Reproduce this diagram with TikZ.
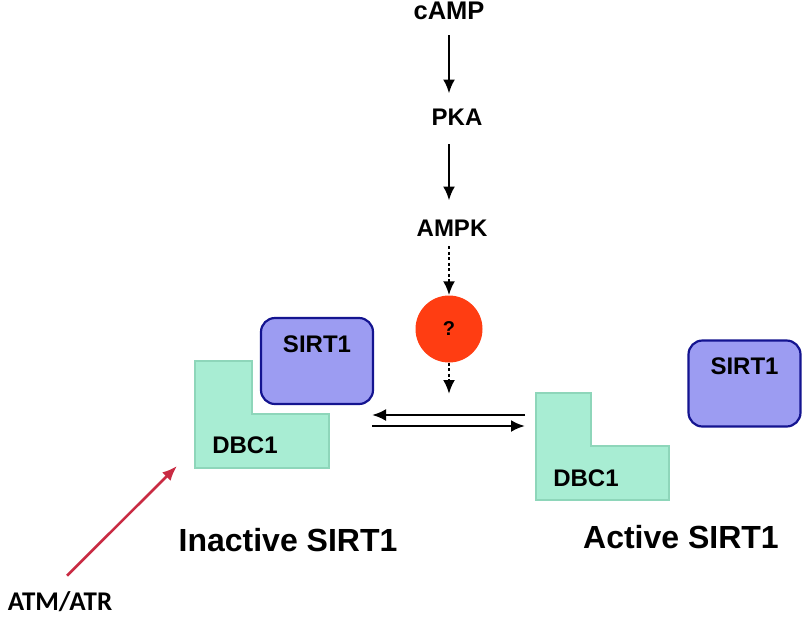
\documentclass[tikz,border=0pt]{standalone}
\usepackage{fontspec}
\setmainfont{Liberation Sans}
\newfontfamily\calibri{Carlito}
\usepackage{tikz}
\usetikzlibrary{positioning,arrows.meta}
\definecolor{verdedbc}{HTML}{A8EDD3}
\definecolor{bordedbc}{HTML}{8ED6BA}
\definecolor{azulsirt}{HTML}{9C9CF2}
\definecolor{bordesirt}{HTML}{141490}
\definecolor{rojoq}{HTML}{FF3D12}
\definecolor{rojoatm}{HTML}{C92B43}
\tikzstyle{etiqueta}=[
	inner sep=0,
	font=\fontsize{24}{28}\selectfont\bfseries]
\tikzstyle{sirt}=[
	rectangle,
	rounded corners=14,
	draw=bordesirt,
	line width=2.2,
	fill=azulsirt,
	minimum width=112,
	minimum height=86]
\tikzstyle{dbc}=[
	draw=bordedbc,
	line width=1.5,
	fill=verdedbc]
\tikzstyle{estado}=[
	inner sep=0,
	font=\fontsize{32}{36}\selectfont\bfseries]
\tikzstyle{flecha}=[
	-{Latex[length=14pt,width=12pt]},
	line width=2.6]
\tikzstyle{punteada}=[
	flecha,
	dash pattern=on 3pt off 2.5pt]
\begin{document}
\begin{tikzpicture}[x=1pt,y=-1pt]
	\useasboundingbox[fill=white] (0,0) rectangle (805,619);
	\begin{scope}
		\node[etiqueta,font=\fontsize{25.5}{28}\selectfont\bfseries]	(camp)	at (449,11)	{cAMP};
		\node[etiqueta]	(pka)	at (457,117)	{PKA};
		\node[etiqueta]	(ampk)	at (452,228)	{AMPK};
		\node[circle,fill=rojoq,minimum size=67,inner sep=0,font=\fontsize{20}{24}\selectfont\bfseries] (pregunta) at (449,329) {?};
		\coordinate (finpunto) at (449,394);
		\draw[flecha,shorten <=15,shorten >=15] (camp.south -| pregunta) -- (pka.north -| pregunta);
		\draw[flecha,shorten <=19,shorten >=19] (pka.south -| pregunta) -- (ampk.north -| pregunta);
		\draw[punteada,shorten <=10] (ampk.south -| pregunta) -- (pregunta.north);
		\draw[punteada] (pregunta.south) -- (finpunto);
	\end{scope}
	\begin{scope}
		% complejo inactivo
		\draw[dbc] (195,361) -- ++(57,0) -- ++(0,53) -- ++(77,0) -- ++(0,54) -- ++(-134,0) -- cycle;
		\node[etiqueta]	(dbca)	at (245,445)	{DBC1};
		\node[sirt]	(sirta)	at (317,361)	{};
		\node[etiqueta]	(sirtatxt)	[below=19pt of sirta.north]	{SIRT1};
		\node[estado]	(inactivo)	at (288,540)	{Inactive SIRT1};
		% estado activo
		\draw[dbc] (536,393) -- ++(55,0) -- ++(0,53) -- ++(78,0) -- ++(0,54) -- ++(-133,0) -- cycle;
		\node[etiqueta]	(dbcb)	at (586,478)	{DBC1};
		\node[sirt]	(sirtb)	at (744.5,383.5)	{};
		\node[etiqueta]	(sirtbtxt)	[below=18pt of sirtb.north]	{SIRT1};
		\node[estado]	(activo)	at (681,537)	{Active SIRT1};
	\end{scope}
	\begin{scope}
		\coordinate (eqizq) at (372,420.5);
		\coordinate (eqder) at (525,420.5);
		\draw[flecha] ([yshift=5.5pt]eqder) -- ([yshift=5.5pt]eqizq);
		\draw[flecha] ([yshift=-5.5pt]eqizq) -- ([yshift=-5.5pt]eqder);
		\node[inner sep=0,font=\calibri\fontsize{27}{30}\selectfont\bfseries] (atm) at (60,602) {ATM/ATR};
		\coordinate (dbcpunta) at (177,466);
		\draw[-{Latex[length=15pt,width=12pt]},line width=2.6,draw=rojoatm] (atm.north) ++(7,-16) -- (dbcpunta);
	\end{scope}
\end{tikzpicture}
\end{document}
